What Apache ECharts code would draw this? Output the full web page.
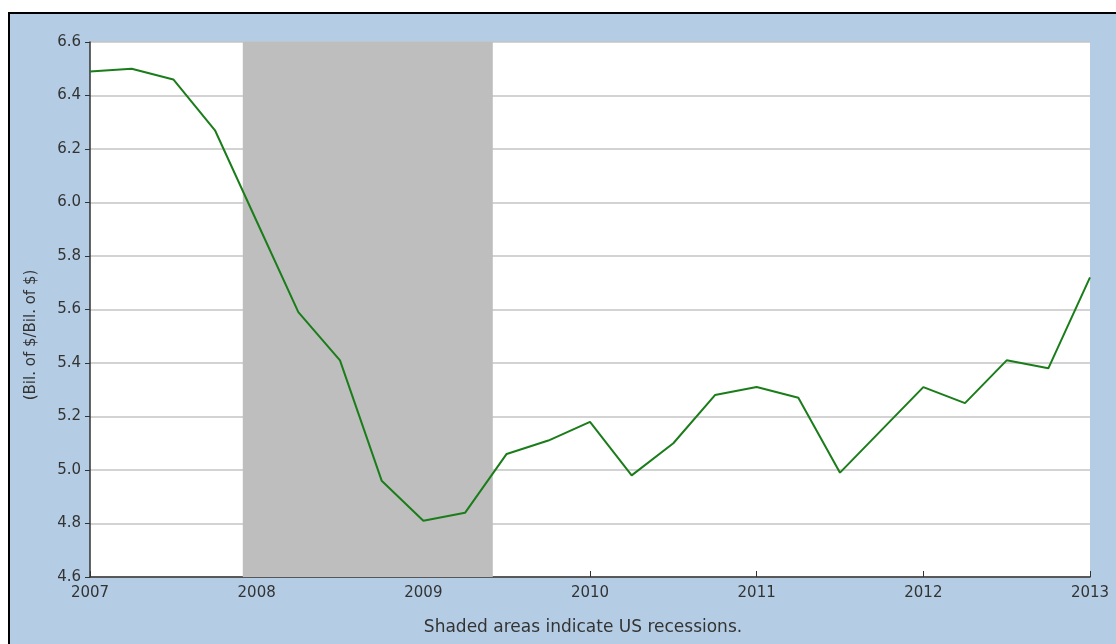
<!DOCTYPE html>
<html>
<head>
<meta charset="utf-8">
<script src="https://cdn.jsdelivr.net/npm/echarts@6/dist/echarts.min.js"></script>
<style>
html,body{margin:0;padding:0;background:#fff;}
#chart{width:1116px;height:644px;}
</style>
</head>
<body>
<div id="chart"></div>
<script>
// Quarterly observations
const quarters = ['2007Q1','2007Q2','2007Q3','2007Q4','2008Q1','2008Q2','2008Q3','2008Q4',
  '2009Q1','2009Q2','2009Q3','2009Q4','2010Q1','2010Q2','2010Q3','2010Q4',
  '2011Q1','2011Q2','2011Q3','2011Q4','2012Q1','2012Q2','2012Q3','2012Q4','2013Q1'];
const values = [6.49,6.50,6.46,6.27,5.93,5.59,5.41,4.96,
  4.81,4.84,5.06,5.11,5.18,4.98,5.10,5.28,
  5.31,5.27,4.99,5.15,5.31,5.25,5.41,5.38,5.72];
const recessionStart = '2007-12';
const recessionEnd = '2009-06';
const yTicks = ['4.6','4.8','5.0','5.2','5.4','5.6','5.8','6.0','6.2','6.4','6.6'];
const yearTicks = ['2007','2008','2009','2010','2011','2012','2013'];
const yAxisName = '(Bil. of $/Bil. of $)';
const footnote = 'Shaded areas indicate US recessions.';

function qToYear(q){ return parseInt(q.slice(0,4)) + (parseInt(q.slice(5)) - 1) / 4; }
function monthToYear(m){ return parseInt(m.slice(0,4)) + (parseInt(m.slice(5)) - 1) / 12; }

const seriesData = quarters.map((q,i) => [qToYear(q), values[i]]);

const chart = echarts.init(document.getElementById('chart'), null, {renderer:'canvas'});
const font = 'DejaVu Sans';
chart.setOption({
  backgroundColor: '#ffffff',
  animation: false,
  graphic: [
    {type:'rect', z:-10, shape:{x:8,y:12,width:1200,height:700}, style:{fill:'#000'}, silent:true},
    {type:'rect', z:-9, shape:{x:10,y:14,width:1200,height:700}, style:{fill:'#b4cde4'}, silent:true},
    {type:'text', x:583, y:628, style:{text:footnote, font:'17px "DejaVu Sans"', fill:'#333', align:'center', verticalAlign:'middle'}},
    {type:'text', x:31, y:335, rotation:Math.PI/2, style:{text:yAxisName, font:'15px "DejaVu Sans"', fill:'#333', align:'center', verticalAlign:'middle'}}
  ],
  grid: {left:90, right:26, top:42, bottom:67, show:true, backgroundColor:'#ffffff', borderWidth:0},
  xAxis: {
    type:'value', min:parseInt(yearTicks[0]), max:parseInt(yearTicks[yearTicks.length-1]), interval:1,
    axisLine:{show:true, onZero:false, lineStyle:{color:'#333', width:1.5}},
    axisTick:{show:true, inside:true, length:6, lineStyle:{color:'#333'}},
    splitLine:{show:false},
    axisLabel:{fontFamily:font, fontSize:15, color:'#333', margin:9, formatter: v => String(v), showMinLabel:true, showMaxLabel:true}
  },
  yAxis: {
    type:'value', min:parseFloat(yTicks[0]), max:parseFloat(yTicks[yTicks.length-1]), interval:0.2,
    axisLine:{show:true, lineStyle:{color:'#333', width:1.5}},
    axisTick:{show:true, inside:false, length:5, lineStyle:{color:'#333'}},
    splitLine:{show:true, lineStyle:{color:'#c4c4c4', width:1.5}},
    axisLabel:{fontFamily:font, fontSize:15, color:'#333', margin:9, formatter: v => v.toFixed(1)}
  },
  series: [{
    type:'line', data: seriesData, symbol:'none',
    lineStyle:{color:'#1a7d1a', width:2},
    markArea:{silent:true, itemStyle:{color:'#bebebe', opacity:1},
      data:[[{xAxis: monthToYear(recessionStart)},{xAxis: monthToYear(recessionEnd)}]]}
  }]
});
</script>
</body>
</html>
